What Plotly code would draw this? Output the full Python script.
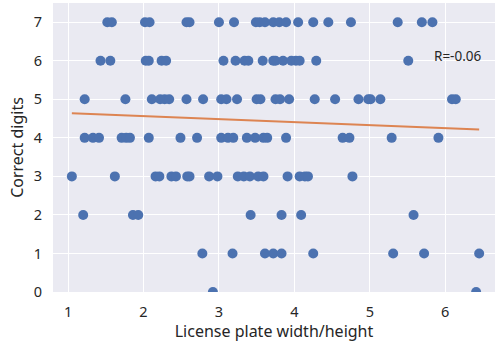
import numpy as np
import plotly.graph_objects as go

# License plate aspect ratio (width/height) grouped by number of correctly read digits
ratio_7 = [1.52, 1.58, 2.02, 2.08, 2.57, 2.61, 3.00, 3.20, 3.49, 3.54, 3.61, 3.72,
           3.80, 3.89, 4.05, 4.25, 4.45, 4.75, 5.37, 5.69, 5.83]
ratio_6 = [1.43, 1.56, 2.03, 2.07, 2.24, 2.30, 3.06, 3.22, 3.34, 3.39, 3.58, 3.72,
           3.75, 3.85, 3.96, 4.02, 4.07, 4.29, 5.51]
ratio_5 = [1.22, 1.76, 2.11, 2.22, 2.28, 2.34, 2.57, 2.79, 3.03, 3.10, 3.24, 3.50,
           3.55, 3.75, 3.81, 3.93, 4.27, 4.54, 4.85, 4.98, 5.01, 5.14, 6.09, 6.14]
ratio_4 = [1.22, 1.33, 1.41, 1.71, 1.77, 1.82, 2.07, 2.49, 2.71, 3.03, 3.12, 3.19,
           3.37, 3.48, 3.59, 3.64, 3.89, 4.64, 4.73, 5.29, 5.91]
ratio_3 = [1.05, 1.62, 2.16, 2.21, 2.37, 2.43, 2.58, 2.61, 2.87, 2.98, 3.25, 3.33,
           3.41, 3.52, 3.59, 3.91, 4.07, 4.14, 4.18, 4.77]
ratio_2 = [1.20, 1.86, 1.93, 3.42, 3.83, 4.09, 5.58]
ratio_1 = [2.78, 3.18, 3.61, 3.72, 3.83, 4.25, 5.31, 5.72, 6.45]
ratio_0 = [2.92, 6.41]

groups = [(0, ratio_0), (1, ratio_1), (2, ratio_2), (3, ratio_3),
          (4, ratio_4), (5, ratio_5), (6, ratio_6), (7, ratio_7)]

x = np.array([r for d, rs in groups for r in rs])
y = np.array([d for d, rs in groups for r in rs], dtype=float)

# Least-squares fit over the data range
slope, intercept = np.polyfit(x, y, 1)
fit_x = np.array([x.min(), x.max()])
fit_y = slope * fit_x + intercept
r_label = "R=-0.06"

font_family = "Noto Sans, Open Sans, DejaVu Sans, sans-serif"
text_color = "#262626"

fig = go.Figure()
fig.add_trace(go.Scatter(
    x=x, y=y, mode="markers",
    marker=dict(size=10, color="#4C72B0", line=dict(width=0)),
    cliponaxis=True, showlegend=False,
))
fig.add_trace(go.Scatter(
    x=fit_x, y=fit_y, mode="lines",
    line=dict(color="#DD8452", width=2),
    showlegend=False,
))

fig.add_annotation(
    x=5.83, y=6.13, xref="x", yref="y", text=r_label, showarrow=False,
    xanchor="left", yanchor="middle",
    font=dict(family=font_family, size=13.5, color=text_color),
)

fig.update_layout(
    width=495, height=345,
    margin=dict(l=53, r=0, t=3, b=53),
    paper_bgcolor="white",
    plot_bgcolor="#EAEAF2",
    font=dict(family=font_family, color=text_color),
    xaxis=dict(
        range=[0.80, 6.66],
        tickvals=[1, 2, 3, 4, 5, 6],
        showgrid=True, gridcolor="white", gridwidth=1.2,
        zeroline=False, showline=False, ticks="",
        ticklabelstandoff=9,
        tickfont=dict(size=14.5, color=text_color),
        title=dict(text="License plate width/height", standoff=2,
                   font=dict(size=16, color=text_color)),
    ),
    yaxis=dict(
        range=[0, 7.5],
        tickvals=[0, 1, 2, 3, 4, 5, 6, 7],
        showgrid=True, gridcolor="white", gridwidth=1.2,
        zeroline=False, showline=False, ticks="",
        ticklabelstandoff=10,
        tickfont=dict(size=14.5, color=text_color),
        title=dict(text="Correct digits", standoff=6,
                   font=dict(size=16, color=text_color)),
    ),
)

fig.write_html("out.html")
